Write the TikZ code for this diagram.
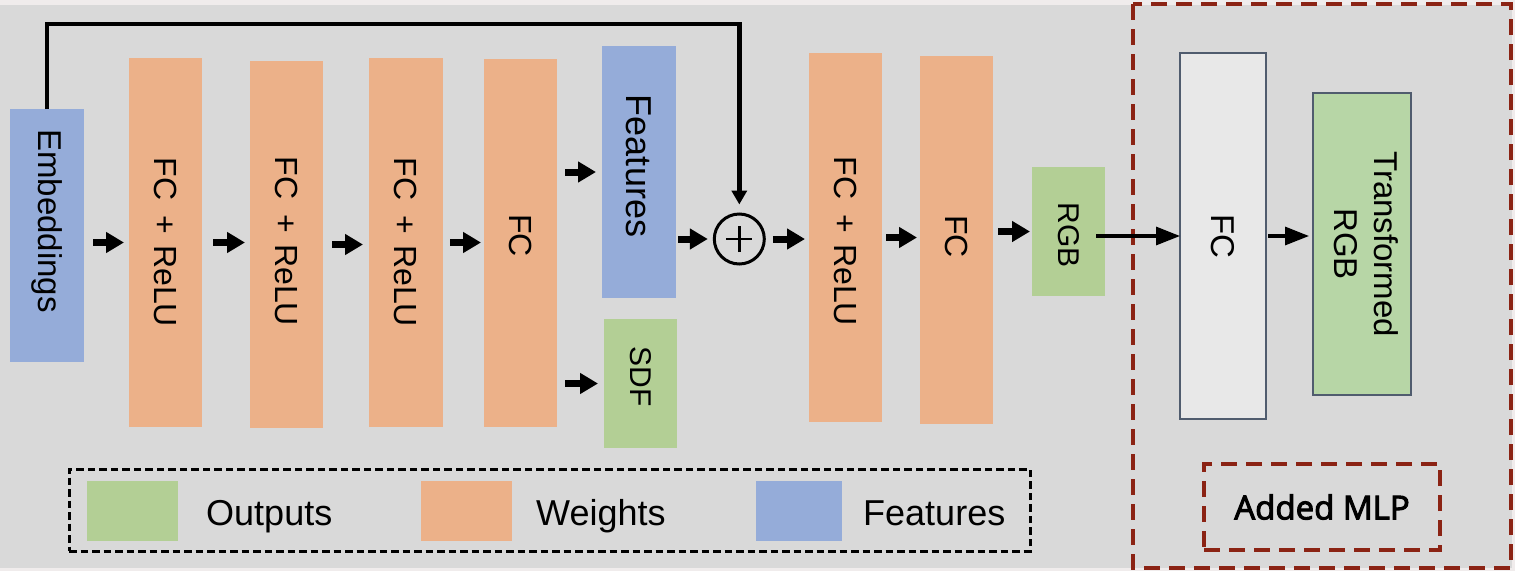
\documentclass[tikz,border=0pt]{standalone}
\usepackage{fontspec}
\setmainfont{Liberation Sans}
\newfontfamily\mlpfont{Open Sans}[FakeBold=3]
\usetikzlibrary{arrows.meta}
\definecolor{bggray}{RGB}{217,217,217}
\definecolor{topstrip}{RGB}{240,236,236}
\definecolor{worange}{RGB}{236,177,137}
\definecolor{fblue}{RGB}{149,172,217}
\definecolor{ogreen}{RGB}{179,207,149}
\definecolor{tgreen}{RGB}{183,214,166}
\definecolor{wbox}{RGB}{232,232,232}
\definecolor{slate}{RGB}{80,92,110}
\definecolor{mlpred}{RGB}{139,35,20}
\newcommand\fsz[1]{\fontsize{#1}{#1}\selectfont}
\begin{document}
\begin{tikzpicture}[x=1pt,y=-1pt,
  blk/.style={inner sep=0pt, outer sep=0pt, anchor=north west},
  fat/.style={line width=7pt, -{Triangle[length=18pt,width=20pt]}},
  thin/.style={line width=3.2pt, -{Triangle[length=24pt,width=18pt]}},
  skiparrow/.style={line width=4.5pt, line join=miter, -{Triangle[length=14pt,width=15pt]}},
  reddash/.style={draw=mlpred, line width=3.5pt, dash pattern=on 16pt off 9pt},
  blackdash/.style={draw=black, line width=3pt, dash pattern=on 7.5pt off 4pt}]
\useasboundingbox (0,0) rectangle (1515,571);
\fill[topstrip] (0,0) rectangle (1515,571);
\fill[bggray] (0,5) rectangle (1512,568);

% left network
\node[blk, fill=fblue, minimum width=74pt, minimum height=253pt, font=\fsz{33}] (emb) at (10,109) {\rotatebox{-90}{Embeddings\hspace{29pt}}};
\node[blk, fill=worange, minimum width=73pt, minimum height=369pt, font=\fsz{32}] (fc1) at (129,58) {\rotatebox{-90}{FC\hspace{15pt}+\hspace{11pt}ReLU}};
\node[blk, fill=worange, minimum width=73pt, minimum height=367pt, font=\fsz{32}] (fc2) at (250,61) {\rotatebox{-90}{FC\hspace{15pt}+\hspace{11pt}ReLU\hspace{6pt}}};
\node[blk, fill=worange, minimum width=74pt, minimum height=369pt, font=\fsz{32}] (fc3) at (369,58) {\rotatebox{-90}{FC\hspace{15pt}+\hspace{11pt}ReLU}};
\node[blk, fill=worange, minimum width=73pt, minimum height=368pt, font=\fsz{32}] (fc4) at (484,59) {\rotatebox{-90}{FC\hspace{15pt}}};
\node[blk, fill=fblue, minimum width=74pt, minimum height=252pt, font=\fsz{36}] (feat) at (602,46) {\rotatebox{-90}{Features\hspace{12pt}}};
\node[blk, fill=ogreen, minimum width=73pt, minimum height=129pt, font=\fsz{30}] (sdf) at (604,319) {\rotatebox{-90}{SDF\hspace{14pt}}};
\node[circle, draw, line width=3pt, minimum size=50pt, inner sep=0pt] (circ) at (739.3,239) {};
\draw[line width=2.6pt] ([xshift=-13pt]circ.center) -- ([xshift=13pt]circ.center);
\draw[line width=2.6pt] ([yshift=-13pt]circ.center) -- ([yshift=13pt]circ.center);
\node[blk, fill=worange, minimum width=73pt, minimum height=369pt, font=\fsz{32}] (fc6) at (809,53) {\rotatebox{-90}{\hspace{8pt}FC\hspace{15pt}+\hspace{11pt}ReLU}};
\node[blk, fill=worange, minimum width=73pt, minimum height=368pt, font=\fsz{32}] (fc7) at (920,56) {\rotatebox{-90}{FC\hspace{7pt}}};
\node[blk, fill=ogreen, minimum width=73pt, minimum height=129pt, font=\fsz{30}] (rgb) at (1032,167) {\rotatebox{-90}{\hspace{7pt}RGB}};

% added MLP
\draw[reddash] (1133,4) rectangle (1511,568);
\node[blk, fill=wbox, draw=slate, line width=1.5pt, minimum width=86pt, minimum height=366pt, font=\fsz{33}] (fcw) at (1180,53) {\rotatebox{-90}{FC}};
\node[blk, fill=tgreen, draw=slate, line width=1.5pt, minimum width=98pt, minimum height=302pt, font=\fontsize{33}{40}\selectfont] (trgb) at (1313,93) {\rotatebox{-90}{\begin{tabular}{@{}c@{}}Transformed\\RGB\end{tabular}}};
\node[blk, reddash, minimum width=236pt, minimum height=86pt, font=\mlpfont\fsz{33}] (addmlp) at (1204,464) {Added MLP};

% legend
\node[blk, blackdash, minimum width=961pt, minimum height=82pt] (legend) at (69,469) {};
\node[blk, fill=ogreen, minimum width=91pt, minimum height=60pt] (lg) at (87,481) {};
\node[blk, fill=worange, minimum width=91pt, minimum height=60pt] (lo) at (421,481) {};
\node[blk, fill=fblue, minimum width=86pt, minimum height=60pt] (lb) at (756,481) {};
\node[inner sep=0pt, anchor=base west, font=\fsz{36}] (lgt) at (206,525) {Outputs};
\node[inner sep=0pt, anchor=base west, font=\fsz{36}] (lot) at (536,525) {Weights};
\node[inner sep=0pt, anchor=base west, font=\fsz{36}] (lbt) at (863,525) {Features};

% connectors
\coordinate (skipcorner) at (739.3,24);
\draw[skiparrow, shorten >=8pt] (emb.north) |- (skipcorner) -- (circ.north);
\draw[fat, shorten <=9pt, shorten >=5pt] (emb.east |- fc1.center) -- (fc1.west);
\draw[fat, shorten <=11pt, shorten >=5pt] (fc1.east) -- (fc1.east -| fc2.west);
\draw[fat, shorten <=9pt, shorten >=6pt, yshift=1.5pt] (fc2.east) -- (fc2.east -| fc3.west);
\draw[fat, shorten <=7pt, shorten >=3pt] (fc3.east) -- (fc3.east -| fc4.west);
\draw[fat, shorten <=8pt, shorten >=6pt] (fc4.east |- feat.center) -- (feat.west);
\draw[fat, shorten <=8pt, shorten >=6pt, yshift=4.5pt] (fc4.east |- sdf.west) -- (sdf.west);
\draw[fat, shorten <=2pt, shorten >=5pt] (feat.east |- circ.center) -- (circ.west);
\draw[fat, shorten <=7pt, shorten >=4pt] (circ.east) -- (circ.east -| fc6.west);
\draw[fat, shorten <=4pt, shorten >=3pt, yshift=3.5pt] (fc6.east) -- (fc6.east -| fc7.west);
\draw[fat, shorten <=5pt, shorten >=2pt, yshift=-2.5pt] (fc7.east |- rgb.center) -- (rgb.west);
\draw[thin, shorten <=-9pt] (rgb.east |- fcw.center) -- (fcw.west);
\draw[thin, shorten <=2pt, shorten >=4pt] (fcw.east) -- (fcw.east -| trgb.west);
\end{tikzpicture}
\end{document}
